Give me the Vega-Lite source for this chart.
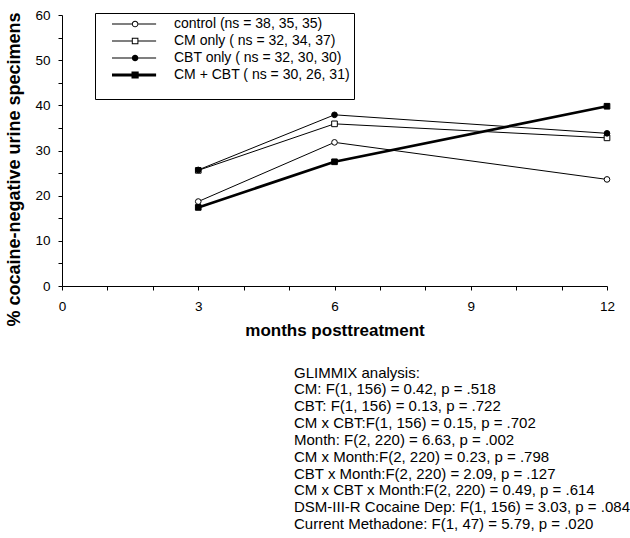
{
  "$schema": "https://vega.github.io/schema/vega-lite/v6.json",
  "width": 545,
  "height": 271,
  "autosize": "none",
  "padding": {"left": 62, "top": 15, "right": 23, "bottom": 252},
  "background": "white",
  "config": {
    "view": {"stroke": null},
    "font": "Liberation Sans",
    "axis": {
      "grid": false,
      "domainColor": "black",
      "domainWidth": 1,
      "tickColor": "black",
      "tickWidth": 1,
      "tickSize": 4,
      "labelColor": "black",
      "labelFont": "Liberation Sans",
      "labelFontSize": 13.5,
      "labelFlush": false,
      "labelOverlap": false,
      "titleColor": "black",
      "titleFont": "Liberation Sans",
      "titleFontWeight": "bold"
    },
    "legend": {
      "orient": "none",
      "legendX": 33,
      "legendY": -2,
      "title": " ",
      "titleOrient": "bottom",
      "titleFontSize": 10,
      "titlePadding": 3,
      "strokeColor": "black",
      "fillColor": "white",
      "padding": 4,
      "labelFont": "Liberation Sans",
      "labelFontSize": 14,
      "labelColor": "black",
      "labelLimit": 400,
      "symbolSize": 36,
      "symbolOffset": 6,
      "labelOffset": 55,
      "rowPadding": 3,
      "symbolOpacity": 1,
      "symbolFillColor": "black",
      "symbolStrokeWidth": 0
    }
  },
  "title": {
    "text": "GLIMMIX analysis:",
    "subtitle": [
      "CM: F(1, 156) = 0.42, p = .518",
      "CBT: F(1, 156) = 0.13, p = .722",
      "CM x CBT:F(1, 156) = 0.15, p = .702",
      "Month: F(2, 220) = 6.63, p = .002",
      "CM x Month:F(2, 220) = 0.23, p = .798",
      "CBT x Month:F(2, 220) = 2.09, p = .127",
      "CM x CBT x Month:F(2, 220) = 0.49, p = .614",
      "DSM-III-R Cocaine Dep:  F(1, 156) = 3.03, p = .084",
      "Current Methadone: F(1, 47) = 5.79, p = .020"
    ],
    "orient": "bottom",
    "anchor": "start",
    "frame": "group",
    "dx": 232,
    "offset": 28,
    "font": "Liberation Sans",
    "fontSize": 15,
    "fontWeight": "normal",
    "color": "black",
    "subtitleFont": "Liberation Sans",
    "subtitleFontSize": 15,
    "subtitleColor": "black",
    "subtitleLineHeight": 16.9,
    "subtitlePadding": 1
  },
  "data": {
    "values": [
      {"group": "control (ns = 38, 35, 35)", "month": 3, "pct": 18.7},
      {"group": "control (ns = 38, 35, 35)", "month": 6, "pct": 31.8},
      {"group": "control (ns = 38, 35, 35)", "month": 12, "pct": 23.6},
      {"group": "CM only ( ns = 32, 34, 37)", "month": 3, "pct": 25.6},
      {"group": "CM only ( ns = 32, 34, 37)", "month": 6, "pct": 35.9},
      {"group": "CM only ( ns = 32, 34, 37)", "month": 12, "pct": 32.8},
      {"group": "CBT only ( ns = 32, 30, 30)", "month": 3, "pct": 25.7},
      {"group": "CBT only ( ns = 32, 30, 30)", "month": 6, "pct": 37.9},
      {"group": "CBT only ( ns = 32, 30, 30)", "month": 12, "pct": 33.8},
      {"group": "CM + CBT ( ns = 30, 26, 31)", "month": 3, "pct": 17.4},
      {"group": "CM + CBT ( ns = 30, 26, 31)", "month": 6, "pct": 27.5},
      {"group": "CM + CBT ( ns = 30, 26, 31)", "month": 12, "pct": 39.8}
    ]
  },
  "encoding": {
    "x": {
      "field": "month",
      "type": "quantitative",
      "scale": {"domain": [0, 12], "nice": false},
      "axis": {
        "title": "months posttreatment",
        "values": [0, 1, 2, 3, 4, 5, 6, 7, 8, 9, 10, 11, 12],
        "labelExpr": "datum.value % 3 === 0 ? datum.label : ''",
        "labelPadding": 9,
        "titleFontSize": 17,
        "titleBaseline": "alphabetic",
        "titleY": 49
      }
    },
    "y": {
      "field": "pct",
      "type": "quantitative",
      "scale": {"domain": [0, 60], "nice": false},
      "axis": {
        "title": "% cocaine-negative urine specimens",
        "values": [0, 5, 10, 15, 20, 25, 30, 35, 40, 45, 50, 55, 60],
        "labelExpr": "datum.value % 10 === 0 ? datum.label : ''",
        "labelPadding": 8,
        "titleFontSize": 18,
        "titleBaseline": "alphabetic",
        "titleX": -43,
        "titleY": 154
      }
    }
  },
  "layer": [
    {
      "mark": {"type": "point", "filled": true, "color": "black", "fill": "black", "strokeWidth": 0, "size": 36, "opacity": 0},
      "encoding": {
        "shape": {
          "field": "group",
          "type": "nominal",
          "scale": {
            "domain": ["control (ns = 38, 35, 35)", "CM only ( ns = 32, 34, 37)", "CBT only ( ns = 32, 30, 30)", "CM + CBT ( ns = 30, 26, 31)"],
            "range": [
              "M0,-0.17L6.6,-0.17L6.6,0.17L0,0.17ZM8.8,-0.17L14.7,-0.17L14.7,0.17L8.8,0.17ZM8.8,0A1.1,1.1,0,1,1,6.6,0A1.1,1.1,0,1,1,8.8,0ZM8.47,0A0.77,0.77,0,1,0,6.93,0A0.77,0.77,0,1,0,8.47,0Z",
              "M0,-0.17L6.6,-0.17L6.6,0.17L0,0.17ZM8.8,-0.17L14.7,-0.17L14.7,0.17L8.8,0.17ZM6.6,-1.1L8.8,-1.1L8.8,1.1L6.6,1.1ZM6.93,-0.77L6.93,0.77L8.47,0.77L8.47,-0.77Z",
              "M0,-0.17L6.6,-0.17L6.6,0.17L0,0.17ZM8.8,-0.17L14.7,-0.17L14.7,0.17L8.8,0.17ZM8.8,0A1.1,1.1,0,1,1,6.6,0A1.1,1.1,0,1,1,8.8,0Z",
              "M0,-0.5L14.7,-0.5L14.7,0.5L0,0.5ZM6.5,-1.2L8.9,-1.2L8.9,1.2L6.5,1.2Z"
            ]
          },
          "legend": {"title": " "}
        }
      }
    },
    {
      "mark": {"type": "line", "color": "black"},
      "encoding": {
        "detail": {"field": "group", "type": "nominal"},
        "strokeWidth": {
          "condition": {"test": "indexof(datum.group,'CM +')===0", "value": 2.7},
          "value": 1
        }
      }
    },
    {
      "mark": {"type": "point", "filled": true, "stroke": "black", "strokeWidth": 1, "size": 32, "opacity": 1},
      "encoding": {
        "fill": {
          "condition": {"test": "indexof(datum.group,'control')===0 || indexof(datum.group,'CM only')===0", "value": "white"},
          "value": "black"
        },
        "shape": {
          "condition": {"test": "indexof(datum.group,'control')===0 || indexof(datum.group,'CBT only')===0", "value": "circle"},
          "value": "square"
        }
      }
    }
  ]
}
